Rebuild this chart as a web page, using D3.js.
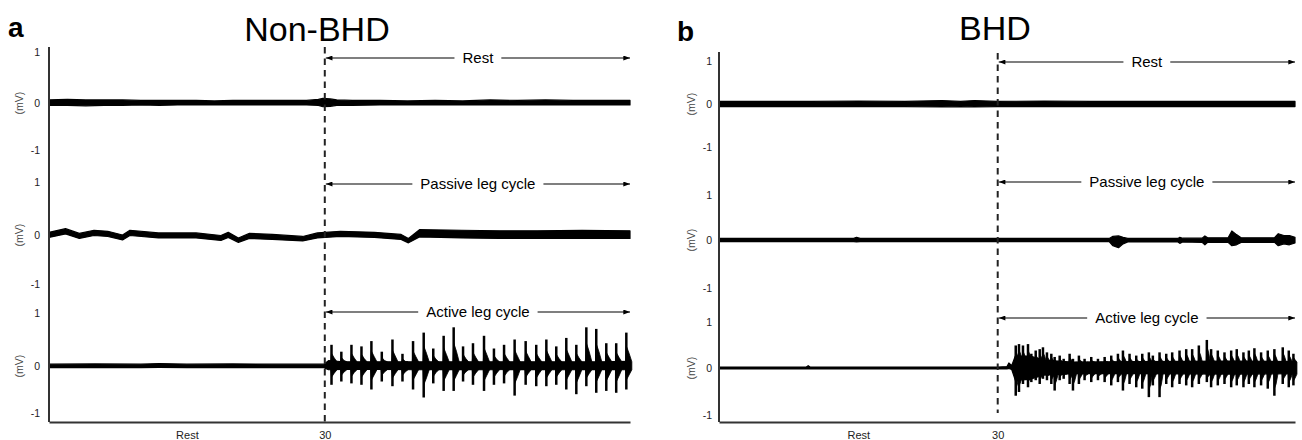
<!DOCTYPE html>
<html>
<head>
<meta charset='utf-8'>
<title>EMG traces</title>
<script src='https://cdn.jsdelivr.net/npm/d3@7'></script>
<style>
  body { margin: 0; background: #fff; }
  svg { display: block; font-family: 'Liberation Sans', Arial, Helvetica, sans-serif; }
</style>
</head>
<body>
<svg width='1302' height='440'></svg>
<script>

// labels
const panelLetters = ['a', 'b']
const panelTitles = ['Non-BHD', 'BHD']
const phaseLabels = ['Rest', 'Passive leg cycle', 'Active leg cycle']
const yTickValues = [-1, 0, 1]
const xTickValues = [15, 30]
const xTickLabels = ['Rest', '30']
const unitLabel = '(mV)'
const onsetTime = 30

// trace envelopes: [time (s), low (mV), high (mV)]
const nonBhdRest = [[0,-.05,.06],[2,-.05,.07],[4,-.06,.06],[6,-.05,.06],[8,-.05,.06],[10,-.04,.05],[12,-.05,.05],
  [14,-.04,.05],[16,-.04,.05],[18,-.04,.04],[20,-.04,.05],[22,-.04,.05],[24,-.04,.05],[26,-.04,.05],[28,-.04,.05],
  [29.3,-.05,.07],[29.8,-.08,.09],[30.6,-.07,.08],[31.3,-.05,.06],[33,-.05,.05],[36,-.04,.05],[39,-.04,.04],
  [42,-.04,.05],[45,-.04,.04],[48,-.04,.06],[51,-.04,.05],[54,-.04,.06],[57,-.04,.05],[60,-.04,.05],[63.2,-.04,.05]]

const nonBhdPassive = [[0,-.05,.05],[1.8,.02,.12],[3.3,-.07,.03],[4.9,-.01,.09],[6.4,-.03,.07],[8,-.1,0],
  [8.8,-.01,.09],[11.9,-.06,.04],[16,-.06,.04],[18.7,-.11,-.01],[19.5,-.05,.05],[20.6,-.15,-.06],[21.8,-.07,.03],
  [24.3,-.09,.01],[27.6,-.12,-.03],[29.2,-.06,.04],[31.7,-.03,.07],[35.4,-.05,.05],[38.3,-.09,.01],[39.1,-.16,-.07],
  [40.3,-.04,.1],[44.9,-.06,.09],[49,-.07,.08],[53.1,-.07,.08],[58,-.07,.09],[63.2,-.07,.08]]

const nonBhdActive = [[0,-.035,.035],[5,-.035,.04],[10,-.035,.035],[12,-.03,.045],[15,-.035,.035],[20,-.035,.04],
  [25,-.035,.035],[29.9,-.035,.035],[30.4,-.08,.1],[32,-.07,.08],[36,-.07,.08],[40,-.08,.08],[44,-.07,.08],
  [48,-.08,.08],[52,-.07,.08],[56,-.08,.08],[60,-.07,.08],[63.2,-.08,.09]]

const bhdRest = [[0,-.06,.06],[5,-.06,.06],[10,-.06,.06],[15,-.06,.07],[20,-.06,.06],[24,-.07,.08],[26,-.06,.06],
  [27.5,-.07,.08],[30,-.06,.06],[35,-.06,.07],[40,-.06,.06],[45,-.06,.06],[50,-.06,.06],[55,-.06,.06],[62,-.06,.06]]

const bhdPassive = [[0,-.035,.035],[14.5,-.035,.035],[14.8,-.04,.06],[15.2,-.035,.035],[30,-.035,.035],[42,-.035,.035],
  [42.4,-.12,.08],[43,-.16,.09],[43.5,-.08,.06],[44,-.04,.035],[49.4,-.04,.035],[49.6,-.07,.06],[49.9,-.04,.04],
  [52,-.05,.04],[52.3,-.1,.09],[52.6,-.05,.05],[54.8,-.05,.05],[55.2,-.12,.2],[55.7,-.1,.12],[56.2,-.05,.05],
  [59.8,-.05,.05],[60.2,-.12,.14],[60.8,-.08,.1],[61.4,-.1,.1],[62,-.06,.06]]

const bhdActive = [[0,-.02,.02],[9.4,-.02,.02],[9.6,-.02,.05],[9.8,-.02,.02],[20,-.02,.02],[30,-.02,.02],
  [31,-.02,.03],[31.2,-.01,.11],[31.5,-.03,.05],[31.9,-.26,.26],[33.5,-.24,.26],[35,-.15,.17],[38,-.12,.13],
  [45,-.12,.14],[55,-.13,.15],[62,-.12,.14]]

// muscle bursts: [time (s), high (mV), low (mV)]
const nonBhdActiveBursts = [[30.73,.40,-.40],[31.8,.27,-.33],[32.9,.40,-.37],[33.99,.37,-.40],[35.07,.47,-.50],
  [36.2,.27,-.33],[37.36,.50,-.43],[38.45,.23,-.33],[39.6,.47,-.50],[40.76,.63,-.67],[41.8,.33,-.37],
  [42.93,.57,-.53],[44.02,.73,-.53],[45.04,.37,-.33],[46.12,.43,-.40],[47.32,.57,-.53],[48.4,.33,-.40],
  [49.5,.40,-.37],[50.65,.50,-.63],[51.85,.47,-.40],[53.0,.40,-.43],[54.1,.50,-.43],[55.18,.37,-.40],
  [56.27,.53,-.50],[57.36,.40,-.60],[58.45,.73,-.43],[59.53,.70,-.57],[60.62,.43,-.53],[61.7,.43,-.57],[62.8,.63,-.50]]

const bhdActiveBursts = [[31.94,.49,-.59],[32.29,.52,-.51],[32.72,.49,-.34],[33.26,.52,-.41],[33.62,.31,-.30],
  [34.09,.38,-.26],[34.52,.41,-.34],[34.87,.45,-.23],[35.30,.34,-.26],[35.77,.31,-.34],[36.13,.24,-.48],
  [36.67,.27,-.26],[37.10,.20,-.23],[37.74,.31,-.34],[38.10,.20,-.48],[38.74,.27,-.34],[39.35,.20,-.26],
  [40.07,.24,-.30],[40.79,.20,-.26],[41.51,.24,-.30],[42.22,.27,-.37],[42.94,.31,-.30],[43.48,.38,-.48],
  [44.19,.31,-.34],[44.91,.27,-.41],[45.56,.31,-.44],[46.27,.34,-.62],[46.70,.27,-.37],[47.42,.34,-.62],
  [48.14,.31,-.34],[48.78,.34,-.41],[49.57,.38,-.34],[50.29,.41,-.37],[50.93,.41,-.41],[51.65,.49,-.34],
  [52.51,.61,-.30],[52.97,.41,-.41],[53.69,.38,-.37],[54.41,.34,-.34],[55.13,.38,-.41],[55.73,.41,-.37],
  [56.45,.34,-.41],[57.03,.38,-.34],[57.63,.43,-.41],[58.35,.34,-.37],[59.07,.38,-.44],[59.78,.41,-.59],
  [60.68,.45,-.34],[61.33,.38,-.41],[61.83,.31,-.37]]

const traces = [[nonBhdRest, nonBhdPassive, nonBhdActive], [bhdRest, bhdPassive, bhdActive]]
const bursts = [[[], [], nonBhdActiveBursts], [[], [], bhdActiveBursts]]

// layout of the two panels (pixels) and burst drawing style
const panels = [
  { x0: 49, x1: 630, tMax: 63.2, axisTop: 47, axisBottom: 422, dashTop: 47, dashBottom: 422,
    letterX: 8, letterY: 37, titleX: 317, titleY: 41, unitX: 19, tickPad: 9,
    body: { pre: 0.08, mid: 0.3, post: 0.6, f1: 0.6, f2: 0.38, band: 0.08 }, spikeWidth: 2.5,
    rows: [{ y: [150, 103, 52], arrowY: 58 }, { y: [284, 235, 182], arrowY: 184 }, { y: [413, 366, 313], arrowY: 312 }] },
  { x0: 719, x1: 1295, tMax: 62, axisTop: 52, axisBottom: 422, dashTop: 53, dashBottom: 413,
    letterX: 677, letterY: 41, titleX: 995, titleY: 40, unitX: 691, tickPad: 7,
    body: { pre: 0.06, mid: 0.18, post: 0.38, f1: 0.75, f2: 0.58, band: 0.13 }, spikeWidth: 2.5,
    rows: [{ y: [147, 104, 61], arrowY: 62 }, { y: [288, 240, 195], arrowY: 182 }, { y: [415, 368, 322], arrowY: 318 }] }
]

const font = "'Liberation Sans', Arial, Helvetica, sans-serif"
const svg = d3.select('svg')

// arrow head
svg.append('defs').append('marker')
  .attr('id', 'head')
  .attr('viewBox', '0 0 8 6')
  .attr('refX', 8).attr('refY', 3)
  .attr('markerWidth', 7).attr('markerHeight', 5)
  .attr('markerUnits', 'userSpaceOnUse')
  .attr('orient', 'auto-start-reverse')
  .append('path').attr('d', 'M0,0L8,3L0,6Z').attr('fill', '#000')

// outline of one burst: sharp rise at the burst, tapering back into the band
const burstBody = (b, k) => [[b[0] - k.pre, -k.band, k.band], [b[0], b[2] * k.f1, b[1] * k.f1],
  [b[0] + k.mid, b[2] * k.f2, b[1] * k.f2], [b[0] + k.post, -k.band, k.band]]

panels.forEach((p, pi) => {
  const g = svg.append('g')
  const x = d3.scaleLinear().domain([0, p.tMax]).range([p.x0, p.x1])

  g.append('text').attr('x', p.letterX).attr('y', p.letterY)
    .attr('font-size', 28).attr('font-weight', 'bold').text(panelLetters[pi])
  g.append('text').attr('x', p.titleX).attr('y', p.titleY)
    .attr('font-size', 34).attr('text-anchor', 'middle').text(panelTitles[pi])

  p.rows.forEach((r, ri) => {
    const y = d3.scaleLinear().domain(yTickValues).range(r.y)

    // tick labels
    const ya = g.append('g').attr('transform', `translate(${p.x0},0)`)
      .call(d3.axisLeft(y).tickValues(yTickValues).tickSize(0).tickPadding(p.tickPad).tickFormat(d => String(d)))
    ya.select('.domain').remove()
    ya.attr('font-family', font).attr('font-size', 10.5)
    ya.selectAll('text').attr('fill', '#222')

    g.append('text')
      .attr('transform', `translate(${p.unitX},${y(0)}) rotate(-90)`)
      .attr('text-anchor', 'middle').attr('dy', '0.35em')
      .attr('font-size', 10.5).attr('fill', '#444').text(unitLabel)

    // envelope of the trace
    const area = d3.area().x(d => x(d[0])).y0(d => y(d[1])).y1(d => y(d[2]))
    g.append('path').datum(traces[pi][ri])
      .attr('d', area)
      .attr('fill', '#000').attr('stroke', '#000')
      .attr('stroke-width', 1.2).attr('stroke-linejoin', 'round')

    // bursts: body plus spike
    g.selectAll(null).data(bursts[pi][ri]).enter().append('path')
      .attr('d', d => area(burstBody(d, p.body)))
      .attr('fill', '#000').attr('stroke', '#000').attr('stroke-width', 0.8)
    g.selectAll(null).data(bursts[pi][ri]).enter().append('line')
      .attr('x1', d => x(d[0])).attr('x2', d => x(d[0]))
      .attr('y1', d => y(d[1])).attr('y2', d => y(d[2]))
      .attr('stroke', '#000').attr('stroke-width', p.spikeWidth)

    // phase arrow
    const xs = x(onsetTime) + 1, xe = x(p.tMax)
    const label = g.append('text').attr('x', (xs + xe) / 2).attr('y', r.arrowY)
      .attr('dy', '0.35em').attr('text-anchor', 'middle').attr('font-size', 15)
      .text(phaseLabels[ri])
    const w = label.node().getComputedTextLength()
    const mid = (xs + xe) / 2
    g.append('line').attr('x1', xs).attr('x2', mid - w / 2 - 8)
      .attr('y1', r.arrowY).attr('y2', r.arrowY)
      .attr('stroke', '#000').attr('stroke-width', 1.2).attr('marker-start', 'url(#head)')
    g.append('line').attr('x1', mid + w / 2 + 8).attr('x2', xe)
      .attr('y1', r.arrowY).attr('y2', r.arrowY)
      .attr('stroke', '#000').attr('stroke-width', 1.2).attr('marker-end', 'url(#head)')
  })

  // onset line
  g.append('line').attr('x1', x(onsetTime)).attr('x2', x(onsetTime))
    .attr('y1', p.dashTop).attr('y2', p.dashBottom)
    .attr('stroke', '#222').attr('stroke-width', 2).attr('stroke-dasharray', '6.5,5')

  // y spine
  g.append('line').attr('x1', p.x0).attr('x2', p.x0)
    .attr('y1', p.axisTop).attr('y2', p.axisBottom)
    .attr('stroke', '#333').attr('stroke-width', 2)

  // x axis
  const xa = g.append('g').attr('transform', `translate(0,${p.axisBottom})`)
    .call(d3.axisBottom(x).tickValues(xTickValues).tickSize(0).tickSizeOuter(0).tickPadding(9)
      .tickFormat((d, i) => xTickLabels[i]))
  xa.attr('font-family', font).attr('font-size', 11)
  xa.select('.domain').attr('stroke', '#333').attr('stroke-width', 2)
  xa.selectAll('text').attr('fill', '#222')
})

</script>
</body>
</html>
